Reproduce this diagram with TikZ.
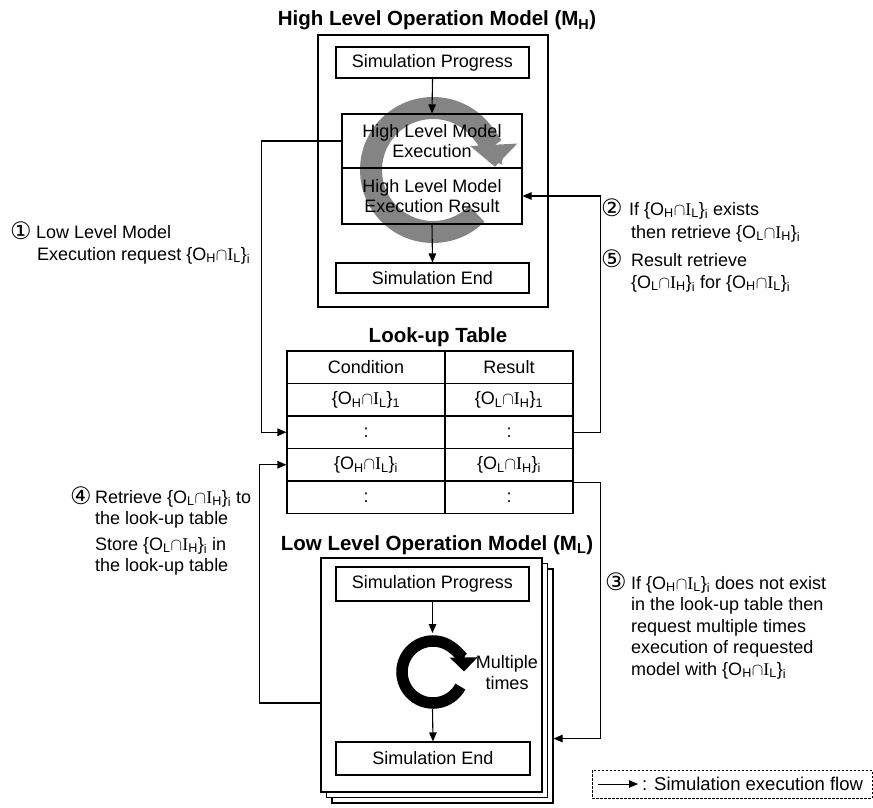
\documentclass[tikz,border=0pt]{standalone}
\usepackage{fontspec}
\setmainfont{Liberation Sans}
\newfontfamily\dvfont{DejaVu Sans}
\newfontfamily\serfont{Liberation Serif}
\usetikzlibrary{arrows.meta,calc}
\definecolor{ringgray}{RGB}{132,132,132}
\newcommand\II{{\serfont I}}
\newcommand\ohil[1]{\{O\textsubscript{H}$\cap$\II\textsubscript{L}\}\textsubscript{#1}}
\newcommand\olih[1]{\{O\textsubscript{L}$\cap$\II\textsubscript{H}\}\textsubscript{#1}}
\newcommand\cnum[1]{{\dvfont\fontsize{24}{24}\selectfont #1}}
\begin{document}
\begin{tikzpicture}[x=1pt,y=-1pt,
  txt/.style={font=\fontsize{18}{20}\selectfont},
  ttl/.style={font=\fontsize{20.5}{24}\selectfont\bfseries},
  box/.style={draw,line width=1.1pt,inner sep=0pt,align=center,txt},
  cell/.style={draw,line width=1.1pt,inner sep=0pt,minimum height=32.5pt,txt},
  page/.style={draw,line width=1.1pt,fill=white,inner sep=0pt,minimum width=221pt,minimum height=234pt},
  flow/.style={line width=1.1pt,-{Triangle[length=9pt,width=7.5pt]}},
  note/.style={txt,inner sep=0pt,anchor=base west},
]
\useasboundingbox (0,0) rectangle (873,808);

% ---------- High level model ----------
\node[ttl,anchor=base] (htitle) at (437,26) {High Level Operation Model (M\textsubscript{H})};
\node[draw,line width=1.1pt,inner sep=0pt,minimum width=230pt,minimum height=272pt] (hm) at (433,171) {};
\draw[ringgray,line width=22pt,-{Triangle[length=22pt,width=46pt]}]
  (433,170) ++(45:62) arc[start angle=45,end angle=357,radius=62];
\node[box,minimum width=193pt,minimum height=31pt] (hsp) at (432.5,62.5) {Simulation Progress};
\node[box,minimum width=180pt,minimum height=54pt] (hexec) at (432,141) {High Level Model\\Execution};
\node[box,minimum width=180pt,minimum height=56pt] (hres) at (432,196) {High Level Model\\Execution Result};
\node[box,minimum width=193pt,minimum height=30pt] (hend) at (432.5,278) {Simulation End};
\draw[flow] (hsp.south) -- (hexec.north);
\draw[flow] (hres.south) -- (hend.north);

% ---------- Look-up table ----------
\node[ttl,anchor=base] (ttitle) at (438,342) {Look-up Table};
\node[cell,minimum width=158pt] (c1) at (366,367.25) {Condition};
\node[cell,minimum width=128pt] (r1) at (509,367.25) {Result};
\node[cell,minimum width=158pt] (c2) at (366,399.75) {\ohil{1}};
\node[cell,minimum width=128pt] (r2) at (509,399.75) {\olih{1}};
\node[cell,minimum width=158pt] (c3) at (366,432.25) {:};
\node[cell,minimum width=128pt] (r3) at (509,432.25) {:};
\node[cell,minimum width=158pt] (c4) at (366,464.75) {\ohil{i}};
\node[cell,minimum width=128pt] (r4) at (509,464.75) {\olih{i}};
\node[cell,minimum width=158pt] (c5) at (366,497.25) {:};
\node[cell,minimum width=128pt] (r5) at (509,497.25) {:};

% ---------- Low level model ----------
\node[ttl,anchor=base] (ltitle) at (437,550) {Low Level Operation Model (M\textsubscript{L})};
\node[page] (lb3) at (442.5,686) {};
\node[page] (lb2) at (437,680.5) {};
\node[page] (lb1) at (431.5,675) {};
\node[box,minimum width=193pt,minimum height=34pt] (lsp) at (432.5,584) {Simulation Progress};
\node[box,minimum width=194pt,minimum height=33pt] (lend) at (433,758.5) {Simulation End};
\draw[line width=11.5pt,-{Triangle[length=14pt,width=27pt]}]
  (433,672) ++(28:31) arc[start angle=28,end angle=359,radius=31];
\coordinate (lrtop) at (432.5,633);
\coordinate (lrbot) at (432.5,709);
\draw[flow] (lsp.south) -- (lrtop);
\draw[flow] (lrbot) -- (lend.north);
\node[txt,anchor=base,inner sep=0pt] (mt1) at (507,668) {Multiple};
\node[txt,anchor=base,inner sep=0pt] (mt2) at (507,689) {times};

% ---------- connectors ----------
\draw[flow] (hexec.west) -- ++(-80,0) |- (c3.west);
\draw[flow] (r3.east) -- ++(27,0) |- (hres.east);
\draw[flow] ($(r5.north east)+(0,2)$) -- ++(27,0) |- ($(lb3.south east)+(0,-65)$);
\draw[flow] ($(lb1.west)+(0,28)$) -- ++(-61,0) |- (c4.west);

% ---------- annotations ----------
\node[note] (n1) at (10,239) {\cnum{①}};
\node[note] (t1a) at (36,238) {Low Level Model};
\node[note] (t1b) at (37,260) {Execution request \ohil{i}};

\node[note] (n2) at (601,216) {\cnum{②}};
\node[note] (t2a) at (629,215) {If \ohil{i} exists};
\node[note] (t2b) at (631,238) {then retrieve \olih{i}};
\node[note] (n5) at (601,267) {\cnum{⑤}};
\node[note] (t5a) at (631,266) {Result retrieve};
\node[note] (t5b) at (631,288) {\olih{i} for \ohil{i}};

\node[note] (n3) at (605,590) {\cnum{③}};
\node[note] (t3a) at (631,589) {If \ohil{i} does not exist};
\node[note] (t3b) at (631,610) {in the look-up table then};
\node[note] (t3c) at (631,632) {request multiple times};
\node[note] (t3d) at (631,653) {execution of requested};
\node[note] (t3e) at (631,675) {model with \ohil{i}};

\node[note] (n4) at (70,504) {\cnum{④}};
\node[note] (t4a) at (95,503) {Retrieve \olih{i} to};
\node[note] (t4b) at (95,524) {the look-up table};
\node[note] (t4c) at (95,550) {Store \olih{i} in};
\node[note] (t4d) at (95,571) {the look-up table};

% ---------- legend ----------
\node[draw,line width=0.9pt,dash pattern=on 2.5pt off 1.5pt,inner sep=0pt,minimum width=280pt,minimum height=28pt] (lg) at (732,784) {};
\coordinate (la) at (598,784);
\coordinate (lb) at (638,784);
\draw[flow,line width=0.9pt] (la) -- (lb);
\node[note,font=\fontsize{18.5}{20}\selectfont] (lt) at (642,790) {: Simulation execution flow};
\end{tikzpicture}
\end{document}
